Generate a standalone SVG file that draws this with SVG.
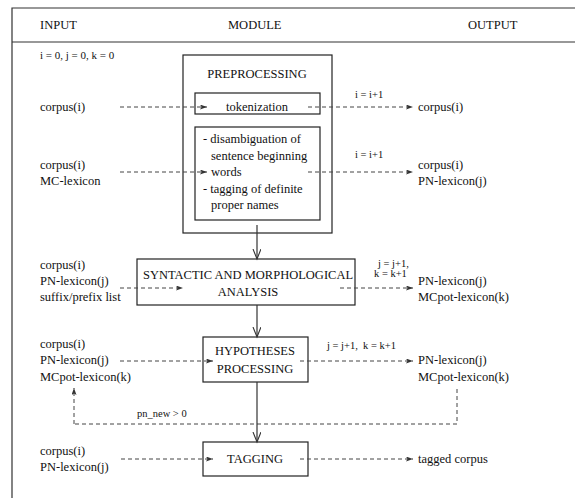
<svg xmlns="http://www.w3.org/2000/svg" width="575" height="498" viewBox="0 0 575 498">
<style>
text{font-family:"Liberation Serif","Times New Roman",serif;font-size:12.5px;fill:#111}
.s{font-size:10.5px}
.c{text-anchor:middle}
.box{fill:none;stroke:#222;stroke-width:1.2}
.frame{fill:none;stroke:#333;stroke-width:1.2}
.d{fill:none;stroke:#444;stroke-width:1;stroke-dasharray:4,3;marker-end:url(#ah)}
.dn{fill:none;stroke:#444;stroke-width:1;stroke-dasharray:4,3}
.v{fill:none;stroke:#333;stroke-width:1.2;marker-end:url(#va)}
</style>
<defs>
<marker id="ah" markerWidth="8" markerHeight="6" refX="7" refY="2.5" orient="auto" markerUnits="userSpaceOnUse">
<path d="M0,0 L7,2.5 L0,5 L1.5,2.5 z" fill="#333"/>
</marker>
<marker id="va" markerWidth="12" markerHeight="10" refX="10" refY="4" orient="auto" markerUnits="userSpaceOnUse">
<path d="M0,0 L10,4 L0,8" fill="none" stroke="#333" stroke-width="1.1"/>
</marker>
</defs>
<rect width="575" height="498" fill="#fff"/>
<g id="frame">
<path class="frame" d="M12,498 V8 H575 M12,42 H575"/>
<text x="40" y="29">INPUT</text>
<text x="228" y="29">MODULE</text>
<text x="468" y="29">OUTPUT</text>
<text class="s" x="40" y="59" style="font-size:11px">i = 0, j = 0, k = 0</text>
</g>
<g id="preprocessing">
<rect class="box" x="183" y="55" width="149" height="178"/>
<text class="c" x="257" y="78">PREPROCESSING</text>
</g>
<g id="tokenization">
<rect class="box" x="195" y="93" width="125" height="21"/>
<text class="c" x="257" y="111">tokenization</text>
</g>
<g id="disambiguation">
<rect class="box" x="195" y="127" width="125" height="93"/>
<text x="203" y="143">- disambiguation of</text>
<text x="211" y="159.5">sentence beginning</text>
<text x="211" y="176">words</text>
<text x="203" y="192.5">- tagging of definite</text>
<text x="211" y="209">proper names</text>
</g>
<g id="syntactic">
<rect class="box" x="137" y="259" width="218" height="46"/>
<text class="c" x="248" y="279">SYNTACTIC AND MORPHOLOGICAL</text>
<text class="c" x="248" y="296">ANALYSIS</text>
</g>
<g id="hypotheses">
<rect class="box" x="203" y="337" width="105" height="45"/>
<text class="c" x="255" y="355">HYPOTHESES</text>
<text class="c" x="255" y="373">PROCESSING</text>
</g>
<g id="tagging">
<rect class="box" x="203" y="442" width="105" height="34"/>
<text class="c" x="255" y="463">TAGGING</text>
</g>
<g id="inputs">
<text x="40" y="111">corpus(i)</text>
<text x="40" y="169">corpus(i)</text>
<text x="40" y="185">MC-lexicon</text>
<text x="40" y="269">corpus(i)</text>
<text x="40" y="285">PN-lexicon(j)</text>
<text x="40" y="301">suffix/prefix list</text>
<text x="40" y="348">corpus(i)</text>
<text x="40" y="364">PN-lexicon(j)</text>
<text x="40" y="381">MCpot-lexicon(k)</text>
<text x="40" y="455">corpus(i)</text>
<text x="40" y="471">PN-lexicon(j)</text>
</g>
<g id="outputs">
<text x="418" y="111">corpus(i)</text>
<text x="418" y="169">corpus(i)</text>
<text x="418" y="185">PN-lexicon(j)</text>
<text x="418" y="285">PN-lexicon(j)</text>
<text x="418" y="301">MCpot-lexicon(k)</text>
<text x="418" y="364">PN-lexicon(j)</text>
<text x="418" y="381">MCpot-lexicon(k)</text>
<text x="418" y="463">tagged corpus</text>
</g>
<g id="connectors">
<path class="d" d="M120,107 H207"/>
<path class="d" d="M308,107 H413"/>
<text class="s" x="355" y="98">i = i+1</text>
<path class="d" d="M120,172 H207"/>
<path class="d" d="M308,172 H413"/>
<text class="s" x="355" y="158">i = i+1</text>
<path class="d" d="M120,288 H183"/>
<path class="d" d="M340,288 H413"/>
<text class="s" x="378" y="267">j = j+1,</text>
<text class="s" x="374" y="277">k = k+1</text>
<path class="d" d="M120,361 H213"/>
<path class="d" d="M300,361 H413"/>
<text class="s" x="327" y="349" xml:space="preserve">j = j+1,  k = k+1</text>
<path class="dn" d="M457,389 V424 H74"/>
<path class="d" d="M74,424 V388"/>
<text class="s" x="137" y="417">pn_new &gt; 0</text>
<path class="d" d="M121,459 H213"/>
<path class="d" d="M300,459 H413"/>
<path class="v" d="M257,225 V259"/>
<path class="v" d="M257,305 V337"/>
<path class="v" d="M257,382 V442"/>
</g>
</svg>
